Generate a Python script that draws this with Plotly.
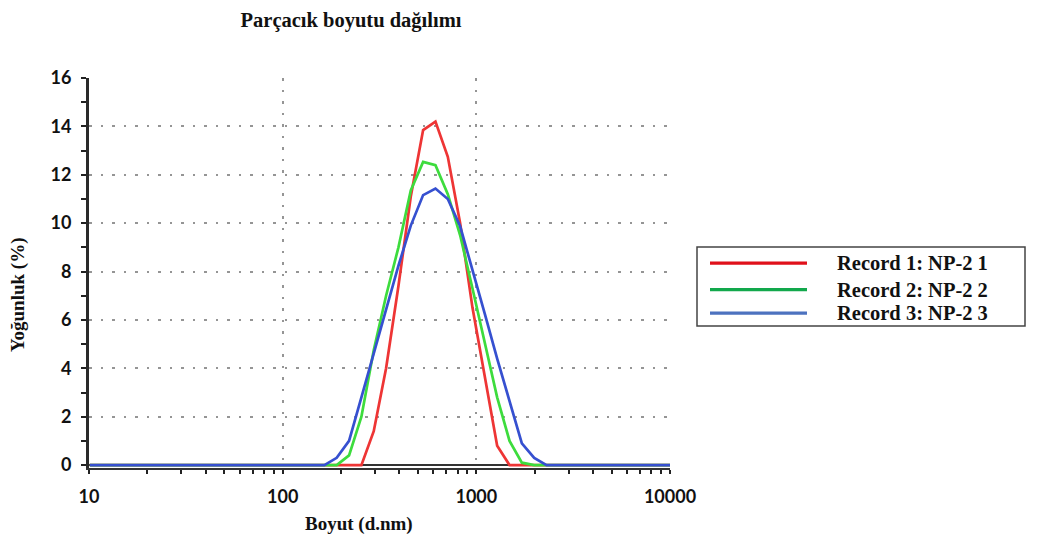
import plotly.graph_objects as go

# Size bins (d.nm)
sizes = [10.1, 11.7, 13.54, 15.69, 18.17, 21.04, 24.36, 28.21, 32.67, 37.84,
         43.82, 50.75, 58.77, 68.06, 78.82, 91.28, 105.7, 122.4, 141.8, 164.2,
         190.1, 220.2, 255, 295.3, 342, 396.1, 458.7, 531.2, 615.1, 712.4,
         825, 955.4, 1106, 1281, 1484, 1718, 1990, 2305, 2669, 3091,
         3580, 4145, 4801, 5560, 6439, 7456, 8635, 10000]

record1 = [0, 0, 0, 0, 0, 0, 0, 0, 0, 0,
           0, 0, 0, 0, 0, 0, 0, 0, 0, 0,
           0, 0, 0, 1.4, 4.0, 7.4, 11.1, 13.85, 14.2, 12.74,
           10.0, 6.5, 3.6, 0.8, 0, 0, 0, 0, 0, 0,
           0, 0, 0, 0, 0, 0, 0, 0]

record2 = [0, 0, 0, 0, 0, 0, 0, 0, 0, 0,
           0, 0, 0, 0, 0, 0, 0, 0, 0, 0,
           0, 0.4, 2.0, 4.75, 7.0, 9.0, 11.35, 12.53, 12.4, 11.2,
           9.5, 7.3, 5.0, 2.8, 1.0, 0.1, 0, 0, 0, 0,
           0, 0, 0, 0, 0, 0, 0, 0]

record3 = [0, 0, 0, 0, 0, 0, 0, 0, 0, 0,
           0, 0, 0, 0, 0, 0, 0, 0, 0, 0,
           0.3, 1.0, 2.8, 4.6, 6.5, 8.24, 9.9, 11.16, 11.43, 11.0,
           9.87, 8.1, 6.25, 4.4, 2.6, 0.9, 0.3, 0, 0, 0,
           0, 0, 0, 0, 0, 0, 0, 0]

series_names = ["Record 1: NP-2 1", "Record 2: NP-2 2", "Record 3: NP-2 3"]
line_colors = ["#ee3535", "#3ddc3d", "#3650d0"]
legend_colors = ["#e0101a", "#12a84c", "#4d72bf"]

x_ticks = [10, 100, 1000, 10000]
x_tick_labels = ["10", "100", "1000", "10000"]
y_ticks = [0, 2, 4, 6, 8, 10, 12, 14, 16]

W, H = 1043, 545
fig = go.Figure()
for name, ys, col in zip(series_names, [record1, record2, record3], line_colors):
    fig.add_trace(go.Scatter(x=sizes, y=ys, mode="lines", name=name,
                             line=dict(color=col, width=2.7), showlegend=False))

tickfont = dict(family="Lato", size=18, color="#111", weight="bold")
grid_color = "#959595"
grid_dash = "2.5px,9px"
fig.update_layout(
    width=W, height=H,
    margin=dict(l=89, r=373, t=78, b=77),
    paper_bgcolor="white", plot_bgcolor="white",
    title=dict(text="<b>Parçacık boyutu dağılımı</b>", x=351 / W, xanchor="center",
               xref="container", y=1 - 20 / H, yanchor="middle", yref="container",
               font=dict(family="Liberation Serif", size=20.5, color="#111")),
)
fig.update_xaxes(
    type="log", range=[1, 4],
    tickvals=x_ticks, ticktext=x_tick_labels, tickfont=tickfont,
    showline=True, linecolor="#333", linewidth=2,
    ticks="outside", ticklen=4, tickwidth=2, tickcolor="#222",
    ticklabelstandoff=7,
    showgrid=True, gridcolor=grid_color, gridwidth=2.2, griddash=grid_dash,
    minor=dict(ticks="outside", ticklen=4, tickwidth=2, tickcolor="#222",
               dtick="D1", showgrid=False),
    zeroline=False,
)
fig.update_yaxes(
    range=[-0.12, 16], tickvals=y_ticks, tickfont=tickfont,
    showline=True, linecolor="#2a2a2a", linewidth=3,
    ticks="outside", ticklen=5, tickwidth=2, tickcolor="#222",
    ticklabelstandoff=6,
    showgrid=True, gridcolor=grid_color, gridwidth=2.2, griddash=grid_dash,
    minor=dict(ticks="outside", ticklen=5, tickwidth=2, tickcolor="#222",
               dtick=1, showgrid=False),
    zeroline=True, zerolinecolor="#333", zerolinewidth=2,
)

# axis titles
fig.add_annotation(text="<b>Boyut (d.nm)</b>", xref="paper", yref="paper",
                   x=(359 - 89) / (1043 - 89 - 373), y=-(524 - 467.9) / 390,
                   xanchor="center", yanchor="middle", showarrow=False,
                   font=dict(family="Liberation Serif", size=19, color="#111"))
fig.add_annotation(text="<b>Yoğunluk (%)</b>", xref="paper", yref="paper",
                   x=-(89 - 18) / (1043 - 89 - 373), y=(467.9 - 295) / 390,
                   xanchor="center", yanchor="middle", textangle=-90, showarrow=False,
                   font=dict(family="Liberation Serif", size=19, color="#111"))

# custom legend (pixel -> paper coordinates)
pw, ph = 1043 - 89 - 373, 390
def px(x):
    return (x - 89) / pw
def py(y):
    return (467.9 - y) / ph

fig.add_shape(type="rect", xref="paper", yref="paper",
              x0=px(697), x1=px(1025), y0=py(326), y1=py(247),
              line=dict(color="#444", width=1.5), fillcolor="white")
legend_y = [263, 289.5, 313]
for name, col, yy in zip(series_names, legend_colors, legend_y):
    fig.add_shape(type="line", xref="paper", yref="paper",
                  x0=px(710), x1=px(807), y0=py(yy), y1=py(yy),
                  line=dict(color=col, width=3.2))
    fig.add_annotation(text="<b>" + name + "</b>", xref="paper", yref="paper",
                       x=px(835), y=py(yy), xanchor="left", yanchor="middle",
                       showarrow=False,
                       font=dict(family="Liberation Serif", size=20.5, color="#111"))

fig.write_html("out.html")
